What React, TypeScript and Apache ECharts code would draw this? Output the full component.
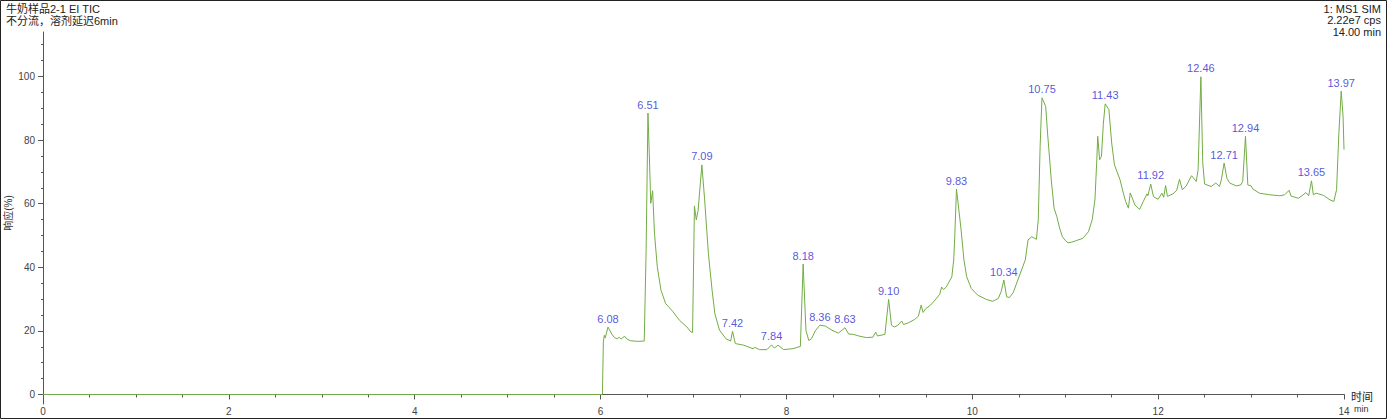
import React, { useEffect, useRef } from "react";
import * as echarts from "echarts";

// Retention time (min) and response (%) of the TIC trace
const times: number[] = [
  0, 5.0, 6.02, 6.03, 6.04, 6.05, 6.08, 6.12, 6.15, 6.18, 6.2, 6.22, 6.24, 6.26, 6.28, 6.32, 6.4, 6.47,
  6.49, 6.51, 6.525, 6.54, 6.56, 6.58, 6.61, 6.65, 6.7, 6.78, 6.85, 6.93, 6.97, 6.99,
  7.01, 7.03, 7.05, 7.09, 7.12, 7.16, 7.2, 7.23, 7.28, 7.35, 7.4, 7.42, 7.45, 7.54, 7.64, 7.66, 7.71, 7.79,
  7.84, 7.87, 7.91, 7.97, 8.07, 8.15, 8.18, 8.21, 8.24, 8.27, 8.31, 8.36, 8.42, 8.49, 8.56, 8.63, 8.67,
  8.72, 8.79, 8.86, 8.93, 8.96, 8.98, 9.06, 9.1, 9.13, 9.16, 9.2, 9.24, 9.26, 9.31, 9.38, 9.42, 9.45,
  9.47, 9.5, 9.55, 9.6, 9.65, 9.67, 9.69, 9.72, 9.78, 9.8, 9.81, 9.83, 9.88, 9.91, 9.94, 9.99, 10.06,
  10.15, 10.22, 10.28, 10.31, 10.34, 10.37, 10.4, 10.44, 10.49, 10.57, 10.6, 10.64, 10.69, 10.71, 10.73,
  10.75, 10.79, 10.81, 10.85, 10.88, 10.91, 10.94, 10.97, 11.0, 11.03, 11.07, 11.12, 11.19, 11.25, 11.29,
  11.32, 11.34, 11.35, 11.37, 11.39, 11.41, 11.43, 11.47, 11.5, 11.53, 11.59, 11.63, 11.65, 11.68, 11.7,
  11.75, 11.8, 11.84, 11.88, 11.89, 11.92, 11.95, 12.0, 12.04, 12.06, 12.08, 12.1, 12.16, 12.2, 12.23,
  12.26, 12.3, 12.36, 12.41, 12.43, 12.46, 12.48, 12.5, 12.57, 12.62, 12.66, 12.68, 12.71, 12.74, 12.77,
  12.84, 12.89, 12.91, 12.94, 12.965, 13.0, 13.02, 13.09, 13.2, 13.31, 13.36, 13.41, 13.43, 13.51, 13.56,
  13.59, 13.62, 13.65, 13.67, 13.7, 13.78, 13.85, 13.89, 13.92, 13.945, 13.97, 13.99, 14.0,
];
const responses: number[] = [
  0, 0, 0, 16.5, 18.6, 17.8, 21.2, 19.0, 17.9, 17.5, 18.0, 17.4, 17.9, 18.3, 17.5, 16.9, 16.7, 16.8,
  45, 88.5, 75, 60.1, 64.1, 50.7, 40.2, 32.8, 28.6, 26.0, 23.3, 21.2, 19.7, 19.5,
  59.3, 54.9, 58, 72.2, 61.2, 44.4, 32.8, 25.4, 20.2, 17.5, 16.8, 19.9, 16.0, 15.5, 14.4, 14.8, 14.1, 14.1,
  15.6, 14.6, 15.5, 14.1, 14.4, 15.1, 41.0, 20.2, 17.0, 17.5, 20.0, 21.8, 21.5, 20.2, 19.3, 21.0, 19.0,
  18.9, 18.3, 17.9, 18.0, 19.6, 18.4, 18.9, 29.9, 21.8, 21.2, 21.8, 23.1, 22.0, 22.5, 23.6, 24.6, 28.1,
  25.8, 27.0, 28.1, 29.7, 31.5, 33.8, 33.0, 33.8, 37.0, 42.3, 48.6, 64.6, 51.7, 42.3, 37.0, 33.3, 31.2,
  29.9, 29.3, 30.2, 32.3, 36.0, 30.7, 30.5, 32.0, 36.0, 42.3, 48.6, 49.6, 48.8, 54.9, 78.0,
  93.3, 90.6, 82.2, 67.5, 58.6, 55.9, 52.3, 49.6, 48.5, 47.7, 47.9, 48.4, 49.1, 51.2, 54.9,
  61.2, 73.8, 81.2, 73.8, 74.9, 85.0, 91.4, 89.6, 79.1, 72.2, 67.5, 62.8, 60.7, 58.6, 63.4,
  59.6, 58.2, 60.7, 63.1, 62.5, 66.2, 62.2, 61.4, 63.3, 62.0, 65.7, 62.3, 63.1, 64.2, 67.7,
  64.4, 65.5, 68.8, 67.0, 70.7, 99.9, 72.8, 66.2, 65.4, 66.5, 65.4, 67.5, 72.8, 68.0, 66.5,
  65.6, 65.9, 67.0, 81.2, 65.9, 65.6, 64.6, 63.3, 62.8, 62.5, 62.8, 64.2, 62.4, 61.7, 62.8,
  63.5, 62.5, 67.2, 62.8, 63.3, 62.6, 61.2, 60.7, 64.4, 82.2, 95.4, 87.5, 77.0,
];

// Labelled peaks
const peakTimes: number[] = [6.08, 6.51, 7.09, 7.42, 7.84, 8.18, 8.36, 8.63, 9.1, 9.83, 10.34, 10.75, 11.43, 11.92, 12.46, 12.71, 12.94, 13.65, 13.97];
const peakLabels: string[] = ["6.08", "6.51", "7.09", "7.42", "7.84", "8.18", "8.36", "8.63", "9.10", "9.83", "10.34", "10.75", "11.43", "11.92", "12.46", "12.71", "12.94", "13.65", "13.97"];
const peakHeights: number[] = [21.2, 88.5, 72.2, 19.9, 15.6, 41.0, 21.8, 21.0, 29.9, 64.6, 36.0, 93.3, 91.4, 66.2, 99.9, 72.8, 81.2, 67.2, 95.4];

const xMajorTicks: number[] = [0, 2, 4, 6, 8, 10, 12, 14];
const yMajorTicks: number[] = [0, 20, 40, 60, 80, 100];
const yMinorTicks: number[] = [0, 5, 10, 15, 20, 25, 30, 35, 40, 45, 50, 55, 60, 65, 70, 75, 80, 85, 90, 95, 100, 105, 110];

const titleLines: string[] = ["牛奶样品2-1 EI TIC", "不分流，溶剂延迟6min"];
const infoLines: string[] = ["1: MS1 SIM", "2.22e7 cps", "14.00 min"];

export default function App() {
  const ref = useRef<HTMLDivElement>(null);
  useEffect(() => {
    document.body.style.margin = "0";
    if (!ref.current) return;
    const chart = echarts.init(ref.current, null, { renderer: "svg" });
    const font = "'Liberation Sans', Arial, 'Noto Sans CJK SC', sans-serif";
    const axisColor = "#555";
    const labelColor = "#444";
    const yMin = -3;
    const yMax = 114;
    chart.setOption({
      animation: false,
      backgroundColor: "#fff",
      grid: { left: 43, right: 43, top: 32, bottom: 15, containLabel: false },
      xAxis: [
        {
          type: "value",
          min: 0,
          max: 14,
          interval: 2,
          axisLine: { show: true, lineStyle: { color: axisColor, width: 1 } },
          axisTick: { show: true, length: 5, inside: false, lineStyle: { color: axisColor } },
          axisLabel: {
            show: true,
            color: labelColor,
            fontSize: 10,
            fontFamily: font,
            margin: 2,
            customValues: xMajorTicks,
          },
          splitLine: { show: false },
        },
        {
          type: "value",
          min: 0,
          max: 14,
          interval: 0.5,
          position: "bottom",
          axisLine: { show: false },
          axisTick: { show: true, length: 3, lineStyle: { color: axisColor } },
          axisLabel: { show: false },
          splitLine: { show: false },
        },
      ],
      yAxis: [
        {
          type: "value",
          min: yMin,
          max: yMax,
          axisLine: { show: true, lineStyle: { color: axisColor, width: 1 } },
          axisTick: { show: true, length: 5, lineStyle: { color: axisColor }, customValues: yMajorTicks },
          axisLabel: {
            show: true,
            color: labelColor,
            fontSize: 10,
            fontFamily: font,
            margin: 8,
            customValues: yMajorTicks,
          },
          splitLine: { show: false },
        },
        {
          type: "value",
          min: yMin,
          max: yMax,
          position: "left",
          axisLine: { show: false },
          axisTick: { show: true, length: 2, lineStyle: { color: axisColor }, customValues: yMinorTicks },
          axisLabel: { show: false },
          splitLine: { show: false },
        },
      ],
      series: [
        {
          type: "line",
          xAxisIndex: 0,
          yAxisIndex: 0,
          data: times.map((t, i) => [t, responses[i]]),
          showSymbol: false,
          symbol: "none",
          smooth: false,
          lineStyle: { color: "#73AC45", width: 1 },
          silent: true,
          z: 3,
        },
        {
          type: "scatter",
          xAxisIndex: 0,
          yAxisIndex: 0,
          data: peakTimes.map((t, i) => ({ value: [t, peakHeights[i]], name: peakLabels[i] })),
          symbolSize: 0,
          label: {
            show: true,
            position: "top",
            distance: 3,
            formatter: (p: any) => p.name,
            color: "#2A2AD2",
            fontSize: 11,
            fontFamily: font,
          },
          silent: true,
          z: 4,
        },
      ],
      graphic: [
        {
          type: "rect",
          shape: { x: 0.5, y: 0.5, width: 1386, height: 418 },
          style: { fill: "none", stroke: "#222", lineWidth: 1 },
          silent: true,
        },
        ...titleLines.map((s, i) => ({
          type: "text",
          left: 6,
          top: 3 + i * 12,
          style: { text: s, fill: "#222", font: `11px ${font}` },
        })),
        ...infoLines.map((s, i) => ({
          type: "text",
          right: 6,
          top: 3 + i * 11.5,
          style: { text: s, fill: "#222", font: `11px ${font}`, textAlign: "right" },
        })),
        {
          type: "text",
          x: 8,
          y: 213,
          rotation: Math.PI / 2,
          style: {
            text: "响应(%)",
            fill: "#333",
            font: `10px ${font}`,
            textAlign: "center",
            textVerticalAlign: "middle",
          },
        },
        {
          type: "text",
          left: 1351,
          top: 391,
          style: { text: "时间", fill: "#222", font: `11px ${font}` },
        },
        {
          type: "text",
          left: 1354,
          top: 404,
          style: { text: "min", fill: "#333", font: `9px ${font}` },
        },
      ],
    });
    return () => chart.dispose();
  }, []);
  return <div ref={ref} style={{ width: 1387, height: 419 }} />;
}
